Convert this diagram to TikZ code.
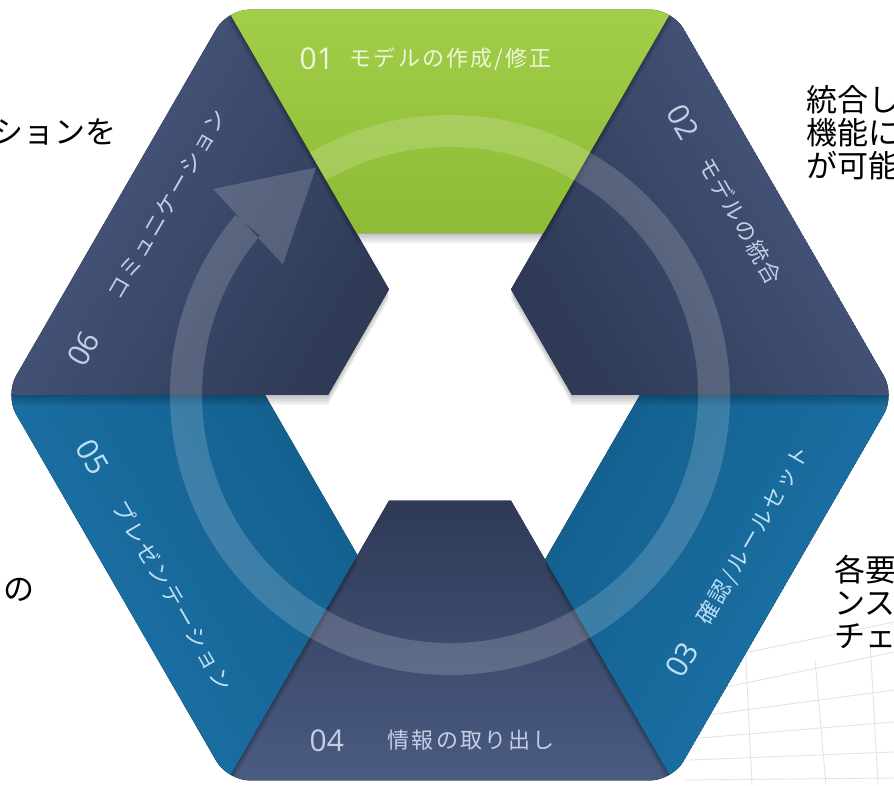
\documentclass[tikz,border=0pt]{standalone}
\usepackage{fontspec}
\usetikzlibrary{calc}
\newfontfamily\jpfont{Noto Sans CJK JP}
\newfontfamily\jplbl[LetterSpace=10]{Noto Sans CJK JP}
\newfontfamily\numfont{Open Sans}
\definecolor{grnA}{HTML}{A2CE48}
\definecolor{grnB}{HTML}{8DBB35}
\definecolor{navA}{HTML}{4A5B82}
\definecolor{navB}{HTML}{2E3A56}
\definecolor{bluA}{HTML}{1E74AA}
\definecolor{bluB}{HTML}{13608F}
\definecolor{txG}{HTML}{EEF6DC}
\definecolor{txN}{HTML}{C5CFE4}
\definecolor{txB}{HTML}{BDE0F5}
\definecolor{gridc}{HTML}{E3E3E3}
\newcommand\pieceshape[2]{(#1:445) -- (#1+60:445) -- (#1+60:#2) -- (#1:#2) -- cycle}
\tikzset{
  shd/.style={fill=black, fill opacity=0.05},
  ringst/.style={fill=white, fill opacity=0.17},
  numt/.style={font=\numfont\fontsize{30}{30}\selectfont, inner sep=0pt, anchor=west},
  lblt/.style={font=\jplbl\fontsize{22}{22}\selectfont, inner sep=0pt, anchor=west},
  blkt/.style={font=\jpfont\fontsize{31}{33}\selectfont, inner sep=0pt, text=black, align=left},
  gridln/.style={draw=gridc, line width=0.9pt}
}
\begin{document}
\begin{tikzpicture}[x=1pt,y=1pt]
\useasboundingbox (0,0) rectangle (894,785);
% faint background grid (bottom right)
\draw[gridln] (735,130) -- (894,163);
\draw[gridln] (722,97) -- (894,133);
\draw[gridln] (708,70) -- (894,95);
\draw[gridln] (700,47) -- (894,63);
\draw[gridln] (690,25) -- (894,33);
\draw[gridln] (685,5) -- (894,7);
\draw[gridln] (745,145) -- (752,0);
\draw[gridln] (815,125) -- (826,0);
\draw[gridln] (870,145) -- (878,0);
\begin{scope}[shift={(450,390)}]
  \begin{scope}
    \clip[rounded corners=22pt] (0:445) -- (60:445) -- (120:445) -- (180:445) -- (240:445) -- (300:445) -- cycle;
    % 04 bottom
    \foreach \s in {2,4,6,8,10} {\fill[shd, yshift=-\s] \pieceshape{240}{122};}
    \fill[top color=navA, bottom color=navB, shading angle=-180] \pieceshape{240}{122};
    % 05 lower left
    \foreach \s in {2,4,6,8,10} {\fill[shd, yshift=-\s] \pieceshape{180}{185};}
    \fill[top color=bluA, bottom color=bluB, shading angle=120] \pieceshape{180}{185};
    % 03 lower right
    \foreach \s in {2,4,6,8,10} {\fill[shd, yshift=-\s] \pieceshape{300}{190};}
    \fill[top color=bluA, bottom color=bluB, shading angle=-120] \pieceshape{300}{190};
    % 06 upper left
    \foreach \s in {2,4,6,8,10} {\fill[shd, yshift=-\s] \pieceshape{120}{122};}
    \fill[top color=navA, bottom color=navB, shading angle=60] \pieceshape{120}{122};
    % 02 upper right
    \foreach \s in {2,4,6,8,10} {\fill[shd, yshift=-\s] \pieceshape{0}{122};}
    \fill[top color=navA, bottom color=navB, shading angle=-60] \pieceshape{0}{122};
    % 01 top
    \foreach \s in {2,4,6,8,10} {\fill[shd, yshift=-\s] \pieceshape{60}{187};}
    \fill[top color=grnA, bottom color=grnB] \pieceshape{60}{187};
    % ring arrow
    \fill[ringst] (140:280) arc[start angle=140, end angle=480, radius=280] -- (480:248) arc[start angle=480, end angle=140, radius=248] -- cycle
      (139:314) -- (120.5:264) -- (142:212) -- cycle;
  \end{scope}
  % labels
  \path (120:445) ++(0:72) ++(-90:49) node[numt, text=txG] (n1) {01};
  \path (120:445) ++(0:122) ++(-90:49) node[lblt, text=txG] (l1) {モデルの作成/修正};
  \path (60:445) ++(-60:85) ++(-150:47) node[numt, rotate=-60, text=txN] (n2) {02};
  \path (60:445) ++(-60:145) ++(-150:47) node[lblt, rotate=-60, text=txN] (l2) {モデルの統合};
  \path (300:445) ++(60:92) ++(150:52) node[numt, rotate=60, text=txB] (n3) {03};
  \path (300:445) ++(60:152) ++(150:52) node[lblt, rotate=60, text=txB] (l3) {確認/ルールセット};
  \path (240:445) ++(0:82) ++(90:40) node[numt, text=txN] (n4) {04};
  \path (240:445) ++(0:160) ++(90:40) node[lblt, text=txN] (l4) {情報の取り出し};
  \path (180:445) ++(-60:80) ++(30:45) node[numt, rotate=-60, text=txB] (n5) {05};
  \path (180:445) ++(-60:150) ++(30:45) node[lblt, rotate=-60, text=txB] (l5) {プレゼンテーション};
  \path (180:445) ++(60:62) ++(-30:45) node[numt, rotate=60, text=txN] (n6) {06};
  \path (180:445) ++(60:138) ++(-30:45) node[lblt, rotate=60, text=txN] (l6) {コミュニケーション};
\end{scope}
% outside black texts
\node[blkt, anchor=east] (t1) at (117,653) {ションを};
\node[blkt, anchor=north west] (t2) at (806,700) {統合し\\機能に\\が可能};
\node[blkt, anchor=north west] (t5) at (834,230) {各要\\ンス\\チェ};
\node[blkt, anchor=west] (t8) at (3,195) {の};
\end{tikzpicture}
\end{document}
